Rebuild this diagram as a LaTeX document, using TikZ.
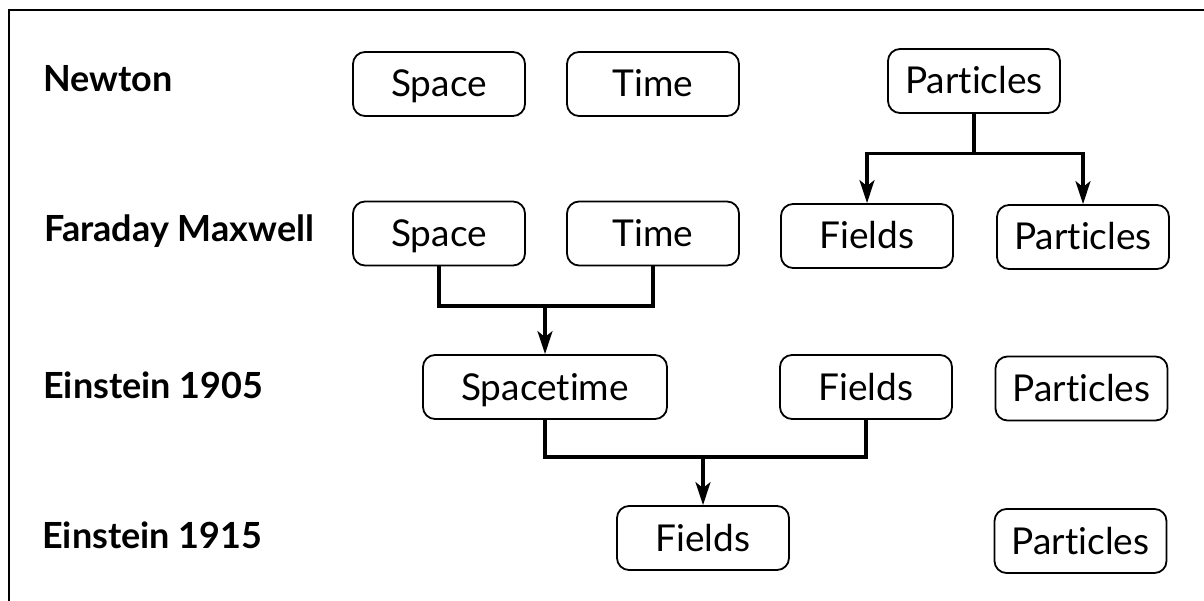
\documentclass[tikz,border=0pt]{standalone}
\usepackage{fontspec}
\setmainfont{Lato}[Ligatures={NoCommon,NoContextual}]
\usetikzlibrary{arrows.meta,calc}
\begin{document}
\begin{tikzpicture}[x=1pt,y=-1pt,
  box/.style={draw, line width=1.8pt, rounded corners=12pt, minimum width=172pt,
    minimum height=64pt, inner sep=0pt, text height=26pt, text depth=0pt,
    font=\fontsize{37}{42}\selectfont},
  wide/.style={box, minimum width=244pt},
  era/.style={anchor=base west, inner sep=0pt, font=\fontsize{36}{42}\selectfont\bfseries},
  conn/.style={line width=3.2pt},
  arr/.style={line width=3.2pt, -{Stealth[length=23pt,width=15pt,inset=6pt]}}]
\useasboundingbox (0,0) rectangle (1204,601);
\fill[white] (0,0) rectangle (1204,601);
\draw[line width=2.5pt] (1204,10) -- (9,10) -- (9,601);

% era labels
\node[era] (lnewton) at (43,92) {Newton};
\node[era] (lfm) at (44,242) {Faraday Maxwell};
\node[era] (le5) at (43,398) {Einstein 1905};
\node[era] (le15) at (42,548) {Einstein 1915};

% Newton
\node[box] (nspace) at (439,84) {Space};
\node[box] (ntime) at (653,84) {Time};
\node[box] (npart) at (974,81) {Particles};
% Faraday Maxwell
\node[box] (fspace) at (439,233.5) {Space};
\node[box] (ftime) at (653,233.5) {Time};
\node[box] (ffields) at (867,236) {Fields};
\node[box] (fpart) at (1083,237) {Particles};
% Einstein 1905
\node[wide] (est) at (545,387) {Spacetime};
\node[box] (efields) at (866,387) {Fields};
\node[box] (epart) at (1081.5,388.5) {Particles};
% Einstein 1915
\node[box] (gfields) at (703,538) {Fields};
\node[box] (gpart) at (1080.5,541) {Particles};

% connectors
\coordinate (j1) at ($(npart.south)+(0,40)$);
\draw[conn] (npart.south) -- (j1);
\draw[arr] (j1) -| (ffields.north);
\draw[arr] (j1) -| (fpart.north);

\coordinate (j2) at (545,306);
\draw[conn] (fspace.south) |- (j2) -| (ftime.south);
\draw[arr] (est.north |- j2) -- (est.north);

\coordinate (j3) at (703,457);
\draw[conn] (est.south) |- (j3) -| (efields.south);
\draw[arr] (gfields.north |- j3) -- (gfields.north);
\end{tikzpicture}
\end{document}
